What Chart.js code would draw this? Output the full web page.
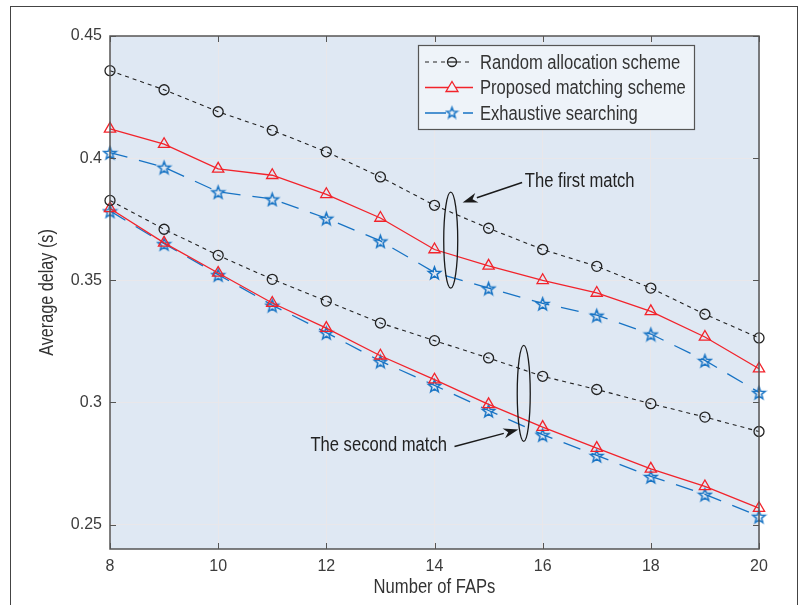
<!DOCTYPE html>
<html>
<head>
<meta charset="utf-8">
<script src="https://cdn.jsdelivr.net/npm/chart.js@4/dist/chart.umd.min.js"></script>
<style>
  html, body { margin: 0; padding: 0; background: #fff; }
  #wrap { width: 806px; height: 605px; position: relative; }
</style>
</head>
<body>
<div id="wrap"><canvas id="chart-main"></canvas></div>
<script>
// Data
const faps = [8, 9, 10, 11, 12, 13, 14, 15, 16, 17, 18, 19, 20];
const randomFirst = [0.4358, 0.4280, 0.4190, 0.4114, 0.4026, 0.3923, 0.3807, 0.3713, 0.3626, 0.3557, 0.3468, 0.3361, 0.3264];
const proposedFirst = [0.4120, 0.4057, 0.3956, 0.3930, 0.3852, 0.3755, 0.3626, 0.3559, 0.3500, 0.3448, 0.3373, 0.3268, 0.3138];
const exhaustiveFirst = [0.4023, 0.3963, 0.3862, 0.3833, 0.3754, 0.3661, 0.3532, 0.3468, 0.3405, 0.3357, 0.3280, 0.3172, 0.3041];
const randomSecond = [0.3827, 0.3709, 0.3602, 0.3504, 0.3415, 0.3325, 0.3253, 0.3182, 0.3107, 0.3053, 0.2995, 0.2940, 0.2881];
const proposedSecond = [0.3794, 0.3653, 0.3530, 0.3407, 0.3304, 0.3191, 0.3093, 0.2992, 0.2899, 0.2813, 0.2728, 0.2656, 0.2567];
const exhaustiveSecond = [0.3784, 0.3650, 0.3523, 0.3398, 0.3286, 0.3169, 0.3070, 0.2967, 0.2868, 0.2783, 0.2697, 0.2624, 0.2534];

const xTicks = [8, 10, 12, 14, 16, 18, 20];
const yTicks = [0.25, 0.3, 0.35, 0.4, 0.45];
const seriesNames = ['Random allocation scheme', 'Proposed matching scheme', 'Exhaustive searching'];

const SANS = "'Liberation Sans', Arial, sans-serif";
const BLACK = '#222', RED = '#f2232b', BLUE = '#1773c4';

// condensed text: regular sans squeezed horizontally
function narrowText(ctx, text, x, y, size, align, squeeze = 0.83) {
  ctx.save();
  ctx.font = size + 'px ' + SANS;
  ctx.textBaseline = 'middle';
  ctx.textAlign = align;
  ctx.translate(x, y);
  ctx.scale(squeeze, 1);
  ctx.fillText(text, 0, 0);
  ctx.restore();
}

// pentagram marker (MATLAB 'p')
function makeStar(color, r) {
  const size = Math.ceil(r * 2 + 4);
  const c = document.createElement('canvas');
  c.width = size; c.height = size;
  const g = c.getContext('2d');
  g.translate(size / 2, size / 2 + 1);
  g.beginPath();
  for (let i = 0; i < 10; i++) {
    const rad = i % 2 === 0 ? r : r * 0.42;
    const a = -Math.PI / 2 + i * Math.PI / 5;
    const px = rad * Math.cos(a), py = rad * Math.sin(a);
    i === 0 ? g.moveTo(px, py) : g.lineTo(px, py);
  }
  g.closePath();
  g.strokeStyle = color; g.lineWidth = 1.5;
  g.stroke();
  return c;
}
const starMarker = makeStar(BLUE, 6.5);
const starLegend = makeStar(BLUE, 5.5);

const pts = arr => faps.map((f, i) => ({ x: f, y: arr[i] }));

const styles = {
  random: { borderColor: BLACK, borderDash: [4, 4], borderWidth: 1.1, pointStyle: 'circle', pointRadius: 5, pointBorderColor: BLACK, pointBackgroundColor: 'rgba(0,0,0,0)', pointBorderWidth: 1.3 },
  proposed: { borderColor: RED, borderDash: [], borderWidth: 1.3, pointStyle: 'triangle', pointRadius: 6.5, pointBorderColor: RED, pointBackgroundColor: 'rgba(0,0,0,0)', pointBorderWidth: 1.3 },
  exhaustive: { borderColor: BLUE, borderDash: [18, 12], borderWidth: 1.3, pointStyle: starMarker, pointRadius: 6.5, pointBorderColor: BLUE, pointBackgroundColor: 'rgba(0,0,0,0)', pointBorderWidth: 1.3 }
};

const datasets = [
  { label: seriesNames[0], data: pts(randomFirst), ...styles.random },
  { label: seriesNames[1], data: pts(proposedFirst), ...styles.proposed },
  { label: seriesNames[2], data: pts(exhaustiveFirst), ...styles.exhaustive },
  { label: '', data: pts(randomSecond), ...styles.random },
  { label: '', data: pts(proposedSecond), ...styles.proposed },
  { label: '', data: pts(exhaustiveSecond), ...styles.exhaustive }
].map(d => ({ ...d, fill: false, tension: 0, clip: false, pointHoverRadius: d.pointRadius }));

// annotation groups (data coords for centres / arrow ends)
const groupEllipses = [
  { x: 14.3, y: 0.3664, rx: 7, ry: 48 },
  { x: 15.65, y: 0.3037, rx: 6.5, ry: 48 }
];
const groupLabels = [
  { text: 'The first match', x: 15.67, y: 0.3906, align: 'left', from: [15.62, 0.3900], to: [14.52, 0.3818] },
  { text: 'The second match', x: 14.23, y: 0.2824, align: 'right', from: [14.37, 0.2820], to: [15.55, 0.2889] }
];

function arrow(ctx, x1, y1, x2, y2) {
  const a = Math.atan2(y2 - y1, x2 - x1), len = 15, hw = 5;
  const bx = x2 - len * Math.cos(a), by = y2 - len * Math.sin(a);
  ctx.beginPath(); ctx.moveTo(x1, y1); ctx.lineTo(bx, by); ctx.stroke();
  ctx.beginPath();
  ctx.moveTo(x2, y2);
  ctx.lineTo(bx + hw * Math.sin(a), by - hw * Math.cos(a));
  ctx.lineTo(x2 - len * 0.7 * Math.cos(a), y2 - len * 0.7 * Math.sin(a));
  ctx.lineTo(bx - hw * Math.sin(a), by + hw * Math.cos(a));
  ctx.closePath(); ctx.fill();
}

const figurePlugin = {
  id: 'figure',
  beforeDraw(chart) {
    const { ctx, chartArea: a } = chart;
    ctx.save();
    ctx.fillStyle = '#fff';
    ctx.fillRect(0, 0, chart.width, chart.height);
    ctx.fillStyle = '#dfe8f3';
    ctx.fillRect(a.left, a.top, a.right - a.left, a.bottom - a.top);
    ctx.restore();
  },
  afterDraw(chart) {
    const { ctx, chartArea: a, scales: { x, y } } = chart;
    ctx.save();

    // axes box + inward ticks on all sides
    ctx.strokeStyle = '#555'; ctx.lineWidth = 1.5;
    ctx.strokeRect(a.left, a.top, a.right - a.left, a.bottom - a.top);
    ctx.lineWidth = 1;
    ctx.beginPath();
    xTicks.forEach(t => {
      const px = Math.round(x.getPixelForValue(t)) + 0.5;
      ctx.moveTo(px, a.bottom); ctx.lineTo(px, a.bottom - 6);
      ctx.moveTo(px, a.top); ctx.lineTo(px, a.top + 6);
    });
    yTicks.forEach(t => {
      const py = Math.round(y.getPixelForValue(t)) + 0.5;
      ctx.moveTo(a.left, py); ctx.lineTo(a.left + 6, py);
      ctx.moveTo(a.right, py); ctx.lineTo(a.right - 6, py);
    });
    ctx.stroke();

    // axis titles
    ctx.fillStyle = '#333';
    narrowText(ctx, 'Number of FAPs', (a.left + a.right) / 2, 587, 20, 'center');
    ctx.save();
    ctx.translate(48, (a.top + a.bottom) / 2);
    ctx.rotate(-Math.PI / 2);
    narrowText(ctx, 'Average delay (s)', 0, 0, 19.5, 'center');
    ctx.restore();

    // group ellipses, arrows and labels
    ctx.strokeStyle = '#1a1a1a'; ctx.fillStyle = '#1a1a1a'; ctx.lineWidth = 1.3;
    groupEllipses.forEach(e => {
      ctx.beginPath();
      ctx.ellipse(x.getPixelForValue(e.x), y.getPixelForValue(e.y), e.rx, e.ry, 0, 0, Math.PI * 2);
      ctx.stroke();
    });
    ctx.lineWidth = 1.5;
    groupLabels.forEach(l => {
      ctx.fillStyle = '#1a1a1a';
      arrow(ctx, x.getPixelForValue(l.from[0]), y.getPixelForValue(l.from[1]),
        x.getPixelForValue(l.to[0]), y.getPixelForValue(l.to[1]));
      ctx.fillStyle = '#222';
      narrowText(ctx, l.text, x.getPixelForValue(l.x), y.getPixelForValue(l.y), 20, l.align);
    });

    // legend box
    const lx = 418, ly = 45, lw = 276, lh = 84;
    ctx.fillStyle = '#eef3f9';
    ctx.fillRect(lx, ly, lw, lh);
    ctx.strokeStyle = '#555'; ctx.lineWidth = 1.2;
    ctx.strokeRect(lx + 0.5, ly + 0.5, lw, lh);
    chart.data.datasets.slice(0, 3).forEach((d, i) => {
      const cy = ly + 17 + i * 25.5;
      ctx.strokeStyle = d.borderColor; ctx.lineWidth = d.borderWidth;
      ctx.setLineDash(i === 2 ? [24, 14] : d.borderDash);
      ctx.beginPath(); ctx.moveTo(lx + 7, cy); ctx.lineTo(lx + 55, cy); ctx.stroke();
      ctx.setLineDash([]);
      const mx = lx + 34;
      ctx.lineWidth = 1.3;
      ctx.fillStyle = '#eef3f9';
      if (i === 0) {
        ctx.beginPath(); ctx.arc(mx, cy, 4.5, 0, Math.PI * 2); ctx.fill(); ctx.stroke();
        ctx.beginPath(); ctx.moveTo(mx - 4.5, cy); ctx.lineTo(mx + 4.5, cy); ctx.stroke();
      } else if (i === 1) {
        ctx.beginPath(); ctx.moveTo(mx, cy - 6); ctx.lineTo(mx + 6, cy + 4); ctx.lineTo(mx - 6, cy + 4); ctx.closePath(); ctx.fill(); ctx.stroke();
      } else {
        ctx.fillRect(mx - 6, cy - 6, 12, 12);
        ctx.drawImage(starLegend, mx - starLegend.width / 2, cy - starLegend.height / 2 - 1);
      }
      ctx.fillStyle = '#333';
      narrowText(ctx, d.label, lx + 62, cy + 1, 20, 'left');
    });

    // outer figure frame
    ctx.strokeStyle = '#444'; ctx.lineWidth = 1;
    ctx.strokeRect(10.5, 6.5, 787, 620);
    ctx.restore();
  }
};

new Chart(document.getElementById('chart-main'), {
  type: 'line',
  data: { datasets },
  options: {
    responsive: true,
    maintainAspectRatio: false,
    animation: false,
    devicePixelRatio: 1,
    layout: { padding: { top: 36, right: 47, bottom: 0, left: 0 } },
    plugins: { legend: { display: false }, tooltip: { enabled: false } },
    scales: {
      x: {
        type: 'linear', min: 8, max: 20,
        afterFit: s => { s.height = 56; },
        afterBuildTicks: s => { s.ticks = xTicks.map(v => ({ value: v })); },
        grid: { color: '#e9e7ea', lineWidth: 1, drawTicks: false },
        border: { display: false },
        ticks: { padding: 8, color: '#3c3c3c', font: { family: SANS, size: 16 }, callback: v => String(v) }
      },
      y: {
        type: 'linear', min: 0.24, max: 0.45,
        afterFit: s => { s.width = 110; },
        afterBuildTicks: s => { s.ticks = yTicks.map(v => ({ value: v })); },
        grid: { color: '#e9e7ea', lineWidth: 1, drawTicks: false },
        border: { display: false },
        ticks: { padding: 8, color: '#3c3c3c', font: { family: SANS, size: 16 }, callback: v => String(+v.toFixed(2)) }
      }
    }
  },
  plugins: [figurePlugin]
});
</script>
</body>
</html>
